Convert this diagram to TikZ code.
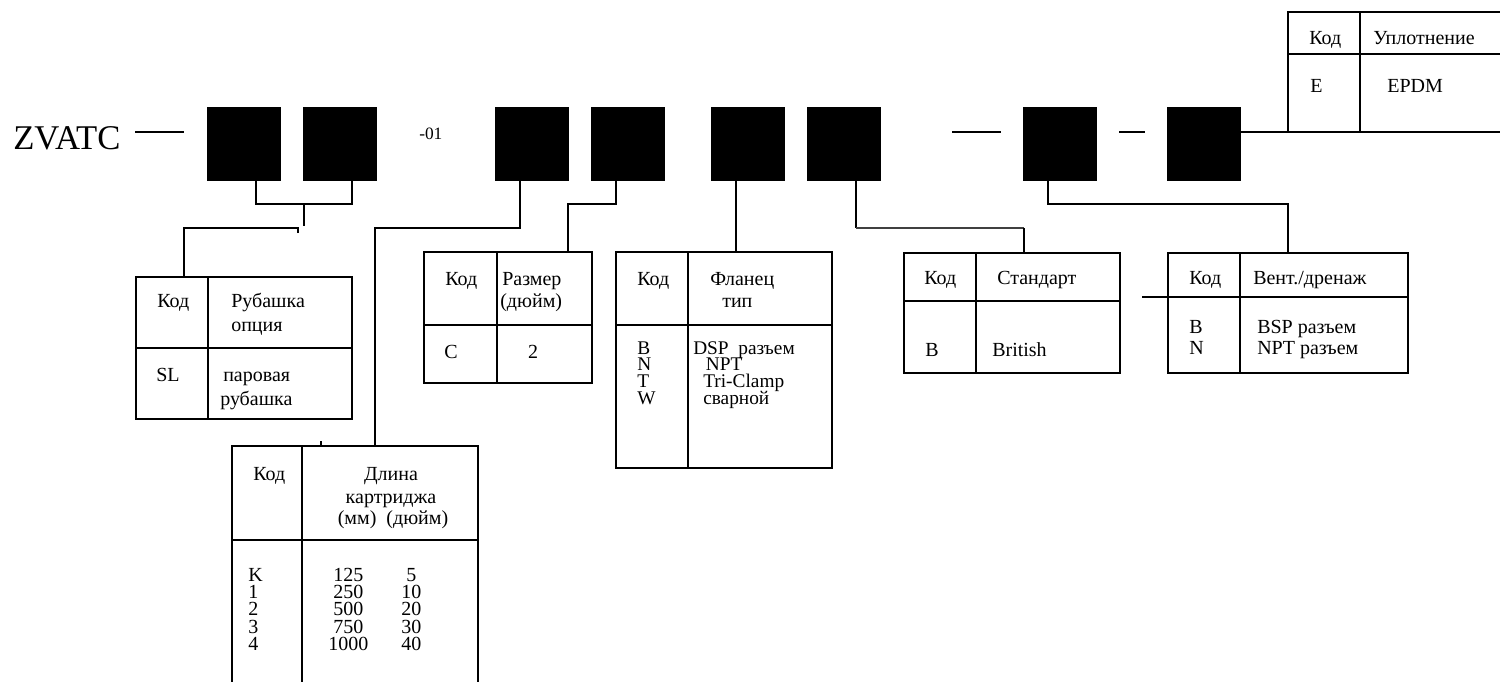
\documentclass[tikz,border=0pt]{standalone}
\usepackage{fontspec}
\setmainfont{Liberation Serif}
\usetikzlibrary{fit}
\newcommand\tw[4]{\node[txt,anchor=base west] (#1) at (#2,#3) {#4};}
\newcommand\tc[4]{\node[txt,anchor=base] (#1) at (#2,#3) {#4};}
\newcommand\rowL[1]{\hbox{#1}}
\newcommand\rowC[1]{\hbox to 36pt{\hfil#1\hfil}}
\newcommand\stack[2]{\vtop{\baselineskip=#1\lineskiplimit=-100pt\lineskip=0pt\relax #2}}
\begin{document}
\begin{tikzpicture}[x=0.75pt,y=-0.75pt,
  blk/.style={fill=black,draw=none,minimum width=55.5pt,minimum height=55.5pt,inner sep=0pt},
  tbl/.style={draw,line width=1.3pt,inner sep=0pt},
  ln/.style={line width=1.3pt},
  conn/.style={line width=1.3pt},
  thinconn/.style={line width=0.8pt,black!75},
  txt/.style={inner sep=0pt,font=\fontsize{15}{18}\selectfont},
  txts/.style={inner sep=0pt,font=\fontsize{14.5}{17}\selectfont}]
\useasboundingbox (0,0) rectangle (1500,682);

% title
\node[inner sep=0pt,anchor=base west,font=\fontsize{26}{30}\selectfont] (zv) at (13,149) {ZVATC};
\node[inner sep=0pt,anchor=base west,font=\fontsize{13}{15}\selectfont] (n01) at (419,139) {-01};

% black boxes
\node[blk] (b1) at (244,144) {};
\node[blk] (b2) at (340,144) {};
\node[blk] (b3) at (532,144) {};
\node[blk] (b4) at (628,144) {};
\node[blk] (b5) at (748,144) {};
\node[blk] (b6) at (844,144) {};
\node[blk] (b7) at (1060,144) {};
\node[blk] (b8) at (1204,144) {};

% dashes
\coordinate (d1a) at (135,132); \coordinate (d1b) at (184,132);
\coordinate (d2a) at (952,132); \coordinate (d2b) at (1001,132);
\coordinate (d3a) at (1119,132); \coordinate (d3b) at (1145,132);
\draw[conn] (d1a) -- (d1b);
\draw[conn] (d2a) -- (d2b);
\draw[conn] (d3a) -- (d3b);
\coordinate (rEnd) at (1500,132);
\draw[conn] (b8.east |- rEnd) -- (rEnd);

% ---- seal table (top right)
\draw[ln] (1500,12) -- (1288,12) -- (1288,132);
\draw[ln] (1288,54) -- (1500,54);
\draw[ln] (1360,12) -- (1360,132);
\tw{u1}{1309}{44}{Код}
\tw{u2}{1373}{44}{Уплотнение}
\tw{u3}{1310}{92}{E}
\tw{u4}{1387}{92}{EPDM}

% ---- jacket table
\node[tbl,fit={(136,277) (352,419)}] (tRub) {};
\draw[ln] (tRub.north -| 208,0) -- (tRub.south -| 208,0);
\draw[ln] (tRub.west |- 0,348) -- (tRub.east |- 0,348);
\tw{r1}{157}{307}{Код}
\tw{r2}{231}{307}{Рубашка}
\tw{r3}{231}{331}{опция}
\tw{r4}{156}{381}{SL}
\tw{r5}{223}{381}{паровая}
\tw{r6}{220}{405}{рубашка}

% ---- size table
\node[tbl,fit={(424,252) (592,383)}] (tRaz) {};
\draw[ln] (tRaz.north -| 497,0) -- (tRaz.south -| 497,0);
\draw[ln] (tRaz.west |- 0,325) -- (tRaz.east |- 0,325);
\tw{z1}{445}{285}{Код}
\tw{z2}{502}{285}{Размер}
\tw{z3}{500}{307}{(дюйм)}
\tw{z4}{444}{358}{C}
\tc{z5}{533}{358}{2}

% ---- flange table
\node[tbl,fit={(616,252) (832,468)}] (tFl) {};
\draw[ln] (tFl.north -| 688,0) -- (tFl.south -| 688,0);
\draw[ln] (tFl.west |- 0,325) -- (tFl.east |- 0,325);
\tw{f1}{637}{285}{Код}
\tw{f2}{710}{285}{Фланец}
\tw{f3}{722}{307}{тип}
\node[txts,anchor=base west] (f4) at (637,354) {\stack{12.7pt}{\rowL{B}\rowL{N}\rowL{T}\rowL{W}}};
\node[txts,anchor=base west] (f5) at (693,354) {\stack{12.7pt}{\rowL{DSP~~разъем}\rowL{\hskip9.5pt NPT}\rowL{\hskip7.5pt Tri-Clamp}\rowL{\hskip7.5pt сварной}}};

% ---- standard table
\node[tbl,fit={(904,253) (1120,373)}] (tSt) {};
\draw[ln] (tSt.north -| 976,0) -- (tSt.south -| 976,0);
\draw[ln] (tSt.west |- 0,301) -- (tSt.east |- 0,301);
\tw{s1}{924}{284}{Код}
\tw{s2}{997}{284}{Стандарт}
\tw{s3}{925}{356}{B}
\tw{s4}{992}{356}{British}

% ---- vent table
\node[tbl,fit={(1168,253) (1408,373)}] (tVe) {};
\draw[ln] (tVe.north -| 1240,0) -- (tVe.south -| 1240,0);
\draw[ln] (1142,297) -- (tVe.east |- 0,297);
\tw{v1}{1189}{284}{Код}
\tw{v2}{1253}{284}{Вент./дренаж}
\tw{v3}{1189}{333}{\stack{15.75pt}{\rowL{B}\rowL{N}}}
\tw{v5}{1257}{333}{\stack{15.75pt}{\rowL{BSP разъем}\rowL{NPT разъем}}}

% ---- length table (open at bottom)
\draw[ln] (232,682) -- (232,446) -- (478,446) -- (478,682);
\draw[ln] (302,446) -- (302,682);
\draw[ln] (232,540) -- (478,540);
\draw[line width=0.8pt] (321,441) -- (321,446);
\tw{l1}{253}{480}{Код}
\tc{l2}{391}{480}{Длина}
\tc{l3}{391}{503}{картриджа}
\tc{l4}{393}{524}{(мм)~~(дюйм)}
\tw{la}{248}{581}{\stack{13.1pt}{\rowL{K}\rowL{1}\rowL{2}\rowL{3}\rowL{4}}}
\tw{lb}{324}{581}{\stack{13.1pt}{\rowC{125}\rowC{250}\rowC{500}\rowC{750}\rowC{1000}}}
\tw{lc}{387}{581}{\stack{13.1pt}{\rowC{5}\rowC{10}\rowC{20}\rowC{30}\rowC{40}}}

% ---- connectors
\draw[conn] (b1.south -| 256,0) |- (304,204) -| (b2.south -| 352,0);
\draw[conn] (304,204) -- (304,226);
\draw[conn] (298,233) -- (298,228) -- (184,228) -- (tRub.north -| 184,0);
\draw[conn] (b3.south -| 520,0) -- (520,228) -- (375,228) -- (375,446);
\draw[conn] (b4.south -| 616,0) -- (616,204) -- (568,204) -- (tRaz.north -| 568,0);
\draw[conn] (b5.south -| 736,0) -- (tFl.north -| 736,0);
\draw[conn] (b6.south -| 856,0) -- (856,228);
\draw[thinconn] (856,228) -- (1024,228);
\draw[conn] (1024,228) -- (tSt.north -| 1024,0);
\draw[conn] (b7.south -| 1048,0) -- (1048,204) -- (1288,204) -- (tVe.north -| 1288,0);
\end{tikzpicture}
\end{document}
